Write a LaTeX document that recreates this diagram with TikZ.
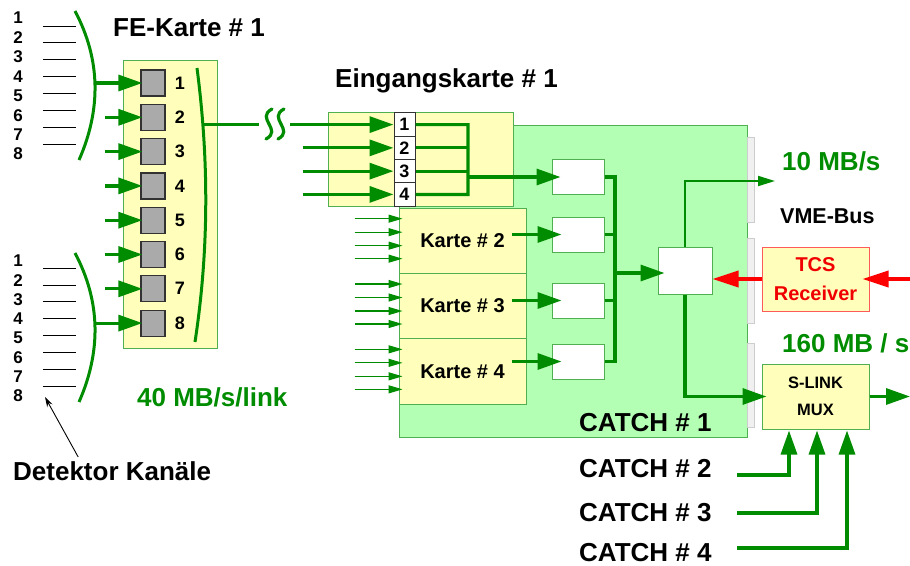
\documentclass[tikz,border=0pt]{standalone}
\usepackage{fontspec}
\setmainfont{Liberation Sans}
\usetikzlibrary{arrows.meta,calc}
\definecolor{lg}{RGB}{0,140,0}
\definecolor{bord}{RGB}{80,175,80}
\definecolor{yel}{RGB}{255,255,187}
\definecolor{lgreen}{RGB}{179,255,179}
\definecolor{sqgray}{RGB}{170,170,170}
\definecolor{sqbord}{RGB}{50,50,50}
\definecolor{tcsred}{RGB}{240,0,0}
\definecolor{tcsbord}{RGB}{255,90,90}
\definecolor{stripfill}{RGB}{240,240,240}
\definecolor{stripbord}{RGB}{205,205,205}
\begin{document}
\begin{tikzpicture}[x=1pt,y=-1pt,
  ybox/.style={draw=bord, line width=1pt, fill=yel, inner sep=0pt},
  gbox/.style={draw=bord, line width=1pt, fill=lgreen, inner sep=0pt},
  wbox/.style={draw=bord, line width=1pt, fill=white, inner sep=0pt, minimum width=52pt, minimum height=35pt},
  sq/.style={draw=sqbord, line width=1.2pt, fill=sqgray, minimum width=24pt, minimum height=26pt, inner sep=0pt},
  ebox/.style={draw=sqbord, line width=1pt, fill=white, minimum width=21pt, minimum height=23.3pt, inner sep=0pt, font=\fontsize{18}{20}\selectfont\bfseries},
  num/.style={font=\fontsize{18}{20}\selectfont\bfseries, inner sep=0pt},
  chn/.style={font=\fontsize{17}{19}\selectfont\bfseries, inner sep=0pt},
  big/.style={font=\fontsize{26}{30}\selectfont\bfseries, inner sep=0pt, anchor=base west},
  karte/.style={ybox, minimum width=127pt, minimum height=65.33pt, font=\fontsize{20}{24}\selectfont\bfseries},
  thk/.style={draw=lg, line width=3.2pt},
  arr/.style={thk, -{Triangle[length=24pt,width=16pt]}},
  tarr/.style={draw=lg, line width=1.2pt, -{Triangle[length=14pt,width=8pt]}},
  marr/.style={draw=lg, line width=2pt, -{Triangle[length=17pt,width=10pt]}},
  rarr/.style={draw=red, line width=3.5pt, -{Triangle[length=26pt,width=16pt]}},
  arc/.style={draw=lg, line width=3pt},
  chl/.style={draw=black, line width=0.8pt},
  strip/.style={draw=stripbord, fill=stripfill, line width=1pt},
  brkline/.style={draw=lg, line width=3.2pt, line cap=round},
]
\useasboundingbox (0,0) rectangle (910,565);

% ---------- left detector channels ----------
\foreach \i in {1,...,8} {
  \node[chn] (ca\i) at (18,{18+(\i-1)*19.43}) {\i};
  \node[chn] (cb\i) at (18,{261+(\i-1)*19.3}) {\i};
  \draw[chl] (43,{26+(\i-1)*16.86}) -- (76,{26+(\i-1)*16.86});
  \draw[chl] (43,{268+(\i-1)*16.9}) -- (76,{268+(\i-1)*16.9});
}
\draw[arc] (75,11) .. controls (101,60) and (101,110) .. (79,160);
\draw[arc] (75,253) .. controls (101,302) and (101,352) .. (79,402);

% ---------- FE-Karte ----------
\node[big] (fet) at (113,36) {FE-Karte \# 1};
\node[ybox, minimum width=94pt, minimum height=288pt] (fe) at (170,204) {};
\foreach \i in {1,...,8} {
  \node[sq] (g\i) at (153,{83+(\i-1)*34.3}) {};
  \node[num] (n\i) at (180,{83+(\i-1)*34.3}) {\i};
}
\foreach \i in {2,...,7} {
  \coordinate (s\i) at ([xshift=-35pt]g\i.west);
  \draw[arr] (s\i) -- ([xshift=2pt]g\i.west);
}
\coordinate (s1) at ([xshift=-45pt]g1.west);
\coordinate (s8) at ([xshift=-45pt]g8.west);
\draw[arr] (s1) -- ([xshift=2pt]g1.west);
\draw[arr] (s8) -- ([xshift=2pt]g8.west);
\draw[arc] (197,68) .. controls (209,160) and (209,250) .. (195,342);

\node[big, text=lg] (rate40) at (137,406) {40 MB/s/link};
\node[big] (det) at (13,480) {Detektor Kan\"ale};
\coordinate (dtip) at (45,397);
\draw[line width=0.9pt, -{Stealth[length=10pt,width=6pt]}] ([xshift=-34pt,yshift=4pt]det.north) -- (dtip);

% ---------- CATCH #1 ----------
\node[gbox, minimum width=348pt, minimum height=312pt] (catch) at (573,281) {};
\foreach \a/\b in {137/222,238/323,343/427}
  \draw[strip] (747,\a) rectangle (754,\b);
\node[big] (c1t) at (579,431) {CATCH \# 1};

% ---------- Eingangskarte ----------
\node[big] (eint) at (335,87) {Eingangskarte \# 1};
\node[ybox, minimum width=185pt, minimum height=94pt] (ein) at (420.5,159) {};
\foreach \i in {1,...,4}
  \node[ebox] (e\i) at (404.5,{124.6+(\i-1)*23.27}) {\i};

\coordinate (feo) at (203,124.6);
\coordinate (brk) at (259,124.6);
\coordinate (brk2) at (290,124.6);
\draw[thk] (feo) -- (brk);
\draw[brkline] (272,109) .. controls (255,118) and (283,130) .. (266,139);
\draw[brkline] (284,109) .. controls (267,118) and (295,130) .. (278,139);
\draw[arr] (brk2) -- (e1.west);
\foreach \i in {2,3,4}
  \draw[arr] ([xshift=-91pt]e\i.west) -- (e\i.west);

% bus of Eingangskarte
\coordinate (eb1) at (468,124.6);
\coordinate (eb4) at (468,194.4);
\coordinate (ebo) at (468,177);
\draw[thk] (e1.east) -- (eb1) -- (eb4) -- (e4.east);
\draw[thk] (e2.east) -- (e2.east -| eb1);
\draw[thk] (e3.east) -- (e3.east -| eb1);

% ---------- Karte 2-4 ----------
\node[karte] (k2) at (462.5,240.67) {Karte \# 2};
\node[karte] (k3) at (462.5,306) {Karte \# 3};
\node[karte] (k4) at (462.5,371.33) {Karte \# 4};
\foreach \k in {2,3,4}
  \foreach \d in {-22,-8.5,5,18}
    \draw[tarr] ($(k\k.west)+(-44,\d)$) -- ($(k\k.west)+(4,\d)$);

% ---------- white boxes ----------
\node[wbox] (w1) at (578,177) {};
\node[wbox] (w2) at (578,234.5) {};
\node[wbox] (w3) at (578,300.5) {};
\node[wbox] (w4) at (578,361.5) {};
\draw[arr] (ebo) -- ([xshift=9pt]w1.west);
\foreach \i in {2,3,4}
  \draw[arr] ([xshift=-40pt]w\i.west) -- ([xshift=10pt]w\i.west);

\node[wbox, minimum width=54pt, minimum height=47pt] (cen) at (685,270.5) {};
\coordinate (wb1) at (615,177);
\coordinate (wb4) at (615,361.5);
\coordinate (wbo) at (615,273);
\draw[thk] (w1.east) -- (wb1) -- (wb4) -- (w4.east);
\draw[thk] (w2.east) -- (w2.east -| wb1);
\draw[thk] (w3.east) -- (w3.east -| wb1);
\draw[arr] (wbo) -- ([xshift=7pt]cen.west |- wbo);

% ---------- right side ----------
\node[big, text=lg] (r10) at (782,170) {10 MB/s};
\node[font=\fontsize{21.5}{24}\selectfont\bfseries, inner sep=0pt, anchor=base west] (vme) at (780,223) {VME-Bus};
\coordinate (vtip) at (775,181);
\draw[marr] (cen.north) |- (vtip);

\node[ybox, draw=tcsbord, minimum width=107pt, minimum height=64pt, align=center,
      text=tcsred, font=\fontsize{20}{29}\selectfont\bfseries] (tcs) at (815.5,279) {TCS\\Receiver};
\coordinate (tin) at (915,279);
\draw[rarr] (tin) -- ([xshift=-7pt]tcs.east);
\draw[rarr] (tcs.west) -- (cen.east |- tcs.west);

\node[big, text=lg] (r160) at (782,352) {160 MB / s};
\node[ybox, minimum width=107pt, minimum height=65pt, align=center,
      font=\fontsize{16.5}{27}\selectfont\bfseries] (mux) at (815.5,396.5) {S-LINK\\MUX};
\draw[arr] (cen.south) |- ([xshift=5pt]mux.west);
\coordinate (mout) at (910,396.5);
\draw[arr] (mux.east) -- (mout);

\node[big] (c2t) at (579,477) {CATCH \# 2};
\node[big] (c3t) at (579,521) {CATCH \# 3};
\node[big] (c4t) at (579,561) {CATCH \# 4};
\coordinate (c2) at (737,475);
\coordinate (c3) at (737,513);
\coordinate (c4) at (737,548);
\draw[arr] (c2) -| ([xshift=-26.5pt,yshift=-1pt]mux.south);
\draw[arr] (c3) -| ([xshift=1.5pt,yshift=-1pt]mux.south);
\draw[arr] (c4) -| ([xshift=31.5pt,yshift=-1pt]mux.south);
\end{tikzpicture}
\end{document}
